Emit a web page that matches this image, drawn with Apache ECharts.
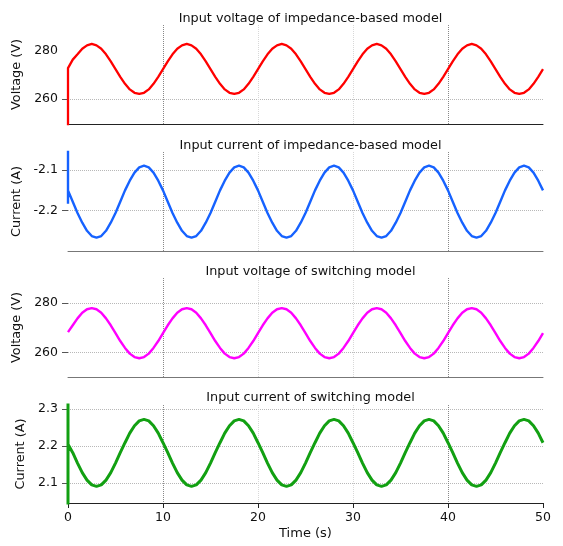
<!DOCTYPE html>
<html>
<head>
<meta charset="utf-8">
<script src="https://cdn.jsdelivr.net/npm/echarts@6/dist/echarts.min.js"></script>
<style>html,body{margin:0;padding:0;background:#fff}#c{width:563px;height:546px}</style>
</head>
<body>
<div id="c"></div>
<script>
const titles = ['Input voltage of impedance-based model','Input current of impedance-based model','Input voltage of switching model','Input current of switching model'];
const yNames = ['Voltage (V)','Current (A)','Voltage (V)','Current (A)'];
const xName = 'Time (s)';
const xTicks = [0,10,20,30,40,50];
const yTickLabels = [[260,280],[-2.2,-2.1],[260,280],[2.1,2.2,2.3]];
const yTickMarks = [[260],[-2.2,-2.1],[260,280],[2.1,2.2,2.3]];
const yRanges = [[249.7,290.6],[-2.30,-2.055],[250,290.2],[2.046,2.311]];

const t = [0,0.5,1,1.5,2,2.5,3,3.5,4,4.5,5,5.5,6,6.5,7,7.5,8,8.5,9,9.5,
10,10.5,11,11.5,12,12.5,13,13.5,14,14.5,15,15.5,16,16.5,17,17.5,18,18.5,19,19.5,
20,20.5,21,21.5,22,22.5,23,23.5,24,24.5,25,25.5,26,26.5,27,27.5,28,28.5,29,29.5,
30,30.5,31,31.5,32,32.5,33,33.5,34,34.5,35,35.5,36,36.5,37,37.5,38,38.5,39,39.5,
40,40.5,41,41.5,42,42.5,43,43.5,44,44.5,45,45.5,46,46.5,47,47.5,48,48.5,49,49.5,50];

const redPre = [240];
const redV = [272.8,276.3,278.5,280.8,282.2,282.8,282.2,280.8,278.5,275.6,272.4,269.2,266.3,264.0,262.6,262.1,262.6,264.0,266.3,269.2,
272.4,275.6,278.5,280.8,282.2,282.8,282.2,280.8,278.5,275.6,272.4,269.2,266.3,264.0,262.6,262.1,262.6,264.0,266.3,269.2,
272.4,275.6,278.5,280.8,282.2,282.8,282.2,280.8,278.5,275.6,272.4,269.2,266.3,264.0,262.6,262.1,262.6,264.0,266.3,269.2,
272.4,275.6,278.5,280.8,282.2,282.8,282.2,280.8,278.5,275.6,272.4,269.2,266.3,264.0,262.6,262.1,262.6,264.0,266.3,269.2,
272.4,275.6,278.5,280.8,282.2,282.8,282.2,280.8,278.5,275.6,272.4,269.2,266.3,264.0,262.6,262.1,262.6,264.0,266.3,269.2,272.4];

const bluePre = [-2.0,-2.183];
const blueV = [-2.150,-2.178,-2.206,-2.230,-2.250,-2.263,-2.267,-2.263,-2.250,-2.230,-2.206,-2.178,-2.150,-2.126,-2.106,-2.093,-2.089,-2.093,-2.106,-2.126,
-2.150,-2.178,-2.206,-2.230,-2.250,-2.263,-2.267,-2.263,-2.250,-2.230,-2.206,-2.178,-2.150,-2.126,-2.106,-2.093,-2.089,-2.093,-2.106,-2.126,
-2.150,-2.178,-2.206,-2.230,-2.250,-2.263,-2.267,-2.263,-2.250,-2.230,-2.206,-2.178,-2.150,-2.126,-2.106,-2.093,-2.089,-2.093,-2.106,-2.126,
-2.150,-2.178,-2.206,-2.230,-2.250,-2.263,-2.267,-2.263,-2.250,-2.230,-2.206,-2.178,-2.150,-2.126,-2.106,-2.093,-2.089,-2.093,-2.106,-2.126,
-2.150,-2.178,-2.206,-2.230,-2.250,-2.263,-2.267,-2.263,-2.250,-2.230,-2.206,-2.178,-2.150,-2.126,-2.106,-2.093,-2.089,-2.093,-2.106,-2.126,-2.150];

const magPre = [];
const magV = [268.2,271.0,273.8,276.1,277.5,278.0,277.5,276.1,273.8,271.0,267.8,264.6,261.8,259.5,258.1,257.6,258.1,259.5,261.8,264.6,
267.8,271.0,273.8,276.1,277.5,278.0,277.5,276.1,273.8,271.0,267.8,264.6,261.8,259.5,258.1,257.6,258.1,259.5,261.8,264.6,
267.8,271.0,273.8,276.1,277.5,278.0,277.5,276.1,273.8,271.0,267.8,264.6,261.8,259.5,258.1,257.6,258.1,259.5,261.8,264.6,
267.8,271.0,273.8,276.1,277.5,278.0,277.5,276.1,273.8,271.0,267.8,264.6,261.8,259.5,258.1,257.6,258.1,259.5,261.8,264.6,
267.8,271.0,273.8,276.1,277.5,278.0,277.5,276.1,273.8,271.0,267.8,264.6,261.8,259.5,258.1,257.6,258.1,259.5,261.8,264.6,267.8];

const greenPre = [1.9,2.4];
const greenV = [2.205,2.182,2.154,2.128,2.108,2.095,2.091,2.095,2.108,2.128,2.154,2.182,2.209,2.235,2.255,2.268,2.272,2.268,2.255,2.235,
2.209,2.182,2.154,2.128,2.108,2.095,2.091,2.095,2.108,2.128,2.154,2.182,2.209,2.235,2.255,2.268,2.272,2.268,2.255,2.235,
2.209,2.182,2.154,2.128,2.108,2.095,2.091,2.095,2.108,2.128,2.154,2.182,2.209,2.235,2.255,2.268,2.272,2.268,2.255,2.235,
2.209,2.182,2.154,2.128,2.108,2.095,2.091,2.095,2.108,2.128,2.154,2.182,2.209,2.235,2.255,2.268,2.272,2.268,2.255,2.235,
2.209,2.182,2.154,2.128,2.108,2.095,2.091,2.095,2.108,2.128,2.154,2.182,2.209,2.235,2.255,2.268,2.272,2.268,2.255,2.235,2.209];

const FONT = 'DejaVu Sans';
const tops = [25,152,278,405];
const heights = [99,99,99,98];
const titleTops = [7,134,260,386];
const lineColors = ['#ff0000','#1662ff','#ff00ff','#12a012'];
const lineWidths = [2.3,2.4,2.4,3];
const axisColors = ['#222','#777','#777','#222'];
const pres = [redPre,bluePre,magPre,greenPre];
const vals = [redV,blueV,magV,greenV];

const option = {
  animation: false,
  backgroundColor: '#fff',
  title: titles.map((s,i)=>({text:s,left:305.5,top:titleTops[i],textAlign:'center',
    textStyle:{fontFamily:FONT,fontSize:12.8,fontWeight:'normal',color:'#111'}})),
  grid: tops.map((tp,i)=>({left:68,right:20,top:tp,height:heights[i]})),
  xAxis: tops.map((_,i)=>({
    type:'value',gridIndex:i,min:0,max:50,interval:10,
    name: i===3?xName:'',nameLocation:'middle',nameGap:24,
    nameTextStyle:{fontFamily:FONT,fontSize:13,color:'#111'},
    axisLine:{show:true,onZero:false,lineStyle:{color:axisColors[i],width:1}},
    axisTick:{show:i===3,length:5,inside:false,lineStyle:{color:'#222'}},
    axisLabel:{show:i===3,fontFamily:FONT,fontSize:12.5,color:'#111',margin:8},
    splitLine:{show:true,showMinLine:false,showMaxLine:false,lineStyle:{type:'dotted',color:['#888','#d8d8d8','#d8d8d8','#888'],width:1}}
  })),
  yAxis: tops.map((_,i)=>({
    type:'value',gridIndex:i,min:yRanges[i][0],max:yRanges[i][1],
    name:yNames[i],nameLocation:'middle',nameGap:36,nameRotate:90,
    nameTextStyle:{fontFamily:FONT,fontSize:12.8,color:'#111'},
    axisLine:{show:false},
    axisTick:{show:true,length:6,customValues:yTickMarks[i],lineStyle:{color:'#555'}},
    axisLabel:{show:true,customValues:yTickLabels[i],fontFamily:FONT,fontSize:12.5,color:'#111',margin:10,
      formatter:v=>String(v)},
    splitLine:{show:true,lineStyle:{type:'dotted',color:'#b8b8b8',width:1}}
  })),
  series: tops.map((_,i)=>({
    type:'line',xAxisIndex:i,yAxisIndex:i,showSymbol:false,symbol:'none',clip:true,
    lineStyle:{color:lineColors[i],width:lineWidths[i]},
    itemStyle:{color:lineColors[i]},
    data: pres[i].map(v=>[0,v]).concat(t.map((x,k)=>[x,vals[i][k]]))
  }))
};
const chart = echarts.init(document.getElementById('c'),null,{renderer:'canvas'});
chart.setOption(option);
</script>
</body>
</html>
